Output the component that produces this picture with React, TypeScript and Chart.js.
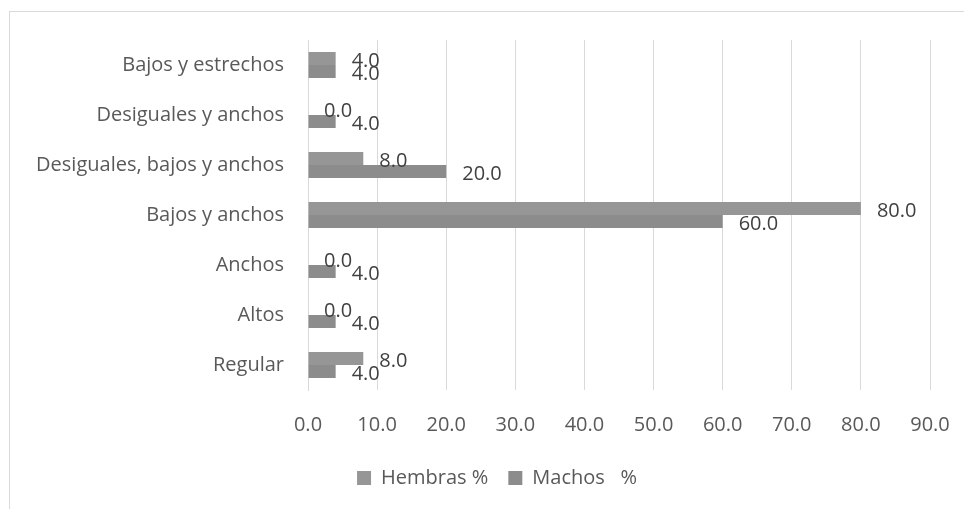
import React, { useEffect, useRef } from "react";
import { Chart, registerables } from "chart.js";

Chart.register(...registerables);

const categories = [
  "Bajos y estrechos",
  "Desiguales y anchos",
  "Desiguales, bajos y anchos",
  "Bajos y anchos",
  "Anchos",
  "Altos",
  "Regular",
];
const hembras = [4.0, 0.0, 8.0, 80.0, 0.0, 0.0, 8.0];
const machos = [4.0, 4.0, 20.0, 60.0, 4.0, 4.0, 4.0];
const seriesNames = ["Hembras %", "Machos   %"];
const xTicks = [0, 10, 20, 30, 40, 50, 60, 70, 80, 90];

const FONT = "'Open Sans', 'Liberation Sans', sans-serif";
const FS = 20;

const labelPlugin = {
  id: "barValueLabels",
  afterDatasetsDraw(chart: any) {
    const ctx = chart.ctx;
    ctx.save();
    ctx.font = `${FS}px ${FONT}`;
    ctx.fillStyle = "#404040";
    ctx.textAlign = "left";
    ctx.textBaseline = "middle";
    chart.data.datasets.forEach((ds: any, di: number) => {
      const meta = chart.getDatasetMeta(di);
      meta.data.forEach((bar: any, i: number) => {
        const v = ds.data[i] as number;
        ctx.fillText(v.toFixed(1), bar.x + 16, bar.y + 3);
      });
    });
    ctx.restore();
  },
};

const legendShiftPlugin = {
  id: "legendShift",
  afterLayout(chart: any) {
    if (chart.legend) {
      chart.legend.left += 27;
      chart.legend.right += 27;
    }
  },
};

export default function App() {
  const ref = useRef<HTMLCanvasElement | null>(null);
  useEffect(() => {
    if (!ref.current) return;
    const chart = new Chart(ref.current, {
      type: "bar",
      data: {
        labels: categories,
        datasets: [
          {
            label: seriesNames[0],
            data: hembras,
            backgroundColor: "#969696",
            categoryPercentage: 0.52,
            barPercentage: 1.0,
          },
          {
            label: seriesNames[1],
            data: machos,
            backgroundColor: "#8c8c8c",
            categoryPercentage: 0.52,
            barPercentage: 1.0,
          },
        ],
      },
      options: {
        indexAxis: "y",
        animation: false,
        responsive: false,
        maintainAspectRatio: false,
        layout: { padding: { left: 10, right: 34, top: 40, bottom: 11 } },
        plugins: {
          tooltip: { enabled: false },
          legend: {
            position: "bottom",
            labels: {
              color: "#595959",
              font: { family: FONT, size: FS },
              boxWidth: 14,
              boxHeight: 14,
              padding: 20,
            },
          },
        },
        scales: {
          x: {
            min: 0,
            max: 90,
            afterBuildTicks: (scale: any) => {
              scale.ticks = xTicks.map((v) => ({ value: v }));
            },
            afterFit: (scale: any) => {
              scale.height = 58;
            },
            ticks: {
              color: "#595959",
              font: { family: FONT, size: FS },
              padding: 0,
              callback: (v: any) => Number(v).toFixed(1),
            },
            grid: {
              color: "#d9d9d9",
              lineWidth: 1,
              drawTicks: true,
              tickLength: 23,
              tickColor: "rgba(0,0,0,0)",
            },
            border: { display: false },
          },
          y: {
            afterFit: (scale: any) => {
              scale.width = 298;
            },
            ticks: {
              color: "#595959",
              font: { family: FONT, size: FS },
              padding: 24,
            },
            grid: { display: false, drawTicks: false },
            border: { display: true, color: "#d9d9d9", width: 1 },
          },
        },
      },
      plugins: [labelPlugin, legendShiftPlugin],
    });
    return () => chart.destroy();
  }, []);

  return (
    <div
      style={{
        position: "fixed",
        left: 0,
        top: 0,
        width: 964,
        height: 509,
        background: "#fff",
        overflow: "hidden",
      }}
    >
      <div
        style={{
          position: "absolute",
          left: 9,
          top: 11,
          width: 1000,
          height: 600,
          borderLeft: "1.5px solid #d9d9d9",
          borderTop: "1.5px solid #d9d9d9",
        }}
      />
      <canvas
        ref={ref}
        width={964}
        height={509}
        style={{ position: "absolute", left: 0, top: 0, width: 964, height: 509 }}
      />
    </div>
  );
}
